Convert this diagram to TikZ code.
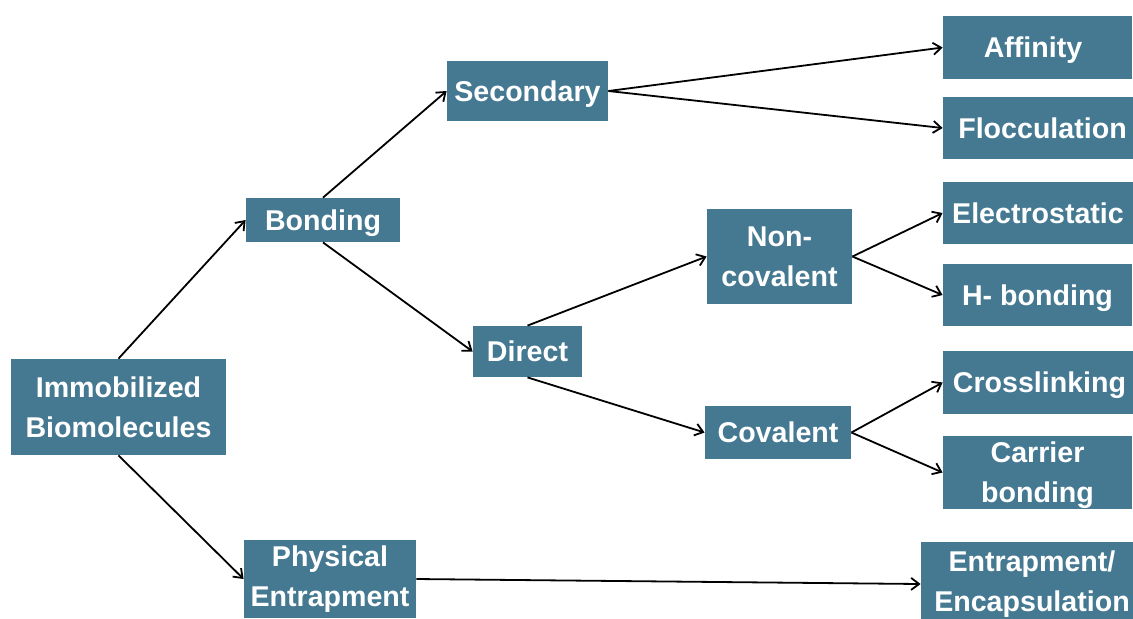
\documentclass[tikz,border=0pt]{standalone}
\usepackage{fontspec}
\setmainfont{Liberation Sans}
\usetikzlibrary{arrows.meta}
\definecolor{boxblue}{RGB}{69,121,146}

\begin{document}
\begin{tikzpicture}[x=0.5pt,y=-0.5pt,
	box/.style={fill=boxblue,text=white,inner sep=0pt,align=center,
		font=\fontsize{14.3}{20}\selectfont\bfseries},
	oneline/.style={box,text height=10.3pt,text depth=0pt},
	link/.style={draw=black,line width=0.9pt,-{Straight Barb[length=4pt,width=6pt]}}]
	\useasboundingbox (0,0) rectangle (1133,618);
	\node[box,minimum width=107.5pt,minimum height=48pt] (imm) at (118.5,407) {Immobilized\\Biomolecules};
	\node[oneline,minimum width=77pt,minimum height=22pt] (bond) at (323,220) {Bonding};
	\node[box,minimum width=86pt,minimum height=39pt] (phys) at (330,579) {Physical\\Entrapment};
	\node[oneline,minimum width=80.5pt,minimum height=30pt] (sec) at (527.5,91) {Secondary};
	\node[oneline,minimum width=54.5pt,minimum height=25.5pt] (dir) at (527.5,351.5) {Direct};
	\node[box,minimum width=72.5pt,minimum height=47.5pt] (noncov) at (779.5,256.5) {Non-\\covalent};
	\node[oneline,minimum width=73pt,minimum height=26.5pt] (cov) at (778,432.5) {Covalent};
	\node[oneline,minimum width=94.5pt,minimum height=31.5pt] (aff) at (1037.5,47.5) {Affinity\hspace*{4.5pt}};
	\node[oneline,minimum width=99.5pt,minimum height=31pt] (floc) at (1042.5,128) {Flocculation};
	\node[oneline,minimum width=95pt,minimum height=31pt] (elec) at (1038,213) {Electrostatic};
	\node[oneline,minimum width=94.5pt,minimum height=31pt] (hbond) at (1037.5,295) {H- bonding};
	\node[oneline,minimum width=96.5pt,minimum height=31.5pt] (cross) at (1039.5,382.5) {Crosslinking};
	\node[box,text depth=0pt,minimum width=94.5pt,minimum height=36.5pt] (carrier) at (1037.5,472.5) {Carrier\\bonding};
	\node[box,minimum width=111pt,minimum height=42pt] (encap) at (1032,584) {Entrapment/\\Encapsulation};

	\draw[link] (imm.north) -- (bond.west);
	\draw[link] (imm.south) -- (phys.west);
	\draw[link] (bond.north) -- (sec.west);
	\draw[link] (bond.south) -- (dir.west);
	\draw[link] (dir.north) -- (noncov.west);
	\draw[link] (dir.south) -- (cov.west);
	\draw[link] (sec.east) -- (aff.west);
	\draw[link] (sec.east) -- (floc.west);
	\draw[link] (noncov.east) -- (elec.west);
	\draw[link] (noncov.east) -- (hbond.west);
	\draw[link] (cov.east) -- (cross.west);
	\draw[link] (cov.east) -- (carrier.west);
	\draw[link] (phys.east) -- (encap.west);
\end{tikzpicture}
\end{document}
